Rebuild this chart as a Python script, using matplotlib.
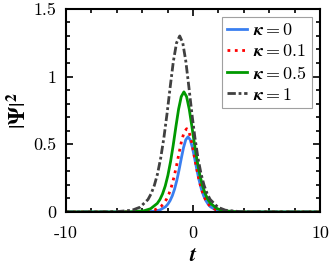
import matplotlib
matplotlib.use('Agg')
from matplotlib import pyplot as plt
from matplotlib.ticker import MultipleLocator

plt.rcParams['mathtext.fontset'] = 'cm'
plt.rcParams['font.family'] = 'serif'
plt.rcParams['font.serif'] = ['cmr10', 'DejaVu Serif']
plt.rcParams['axes.unicode_minus'] = False
plt.rcParams['axes.formatter.use_mathtext'] = True

# |Psi|^2, one (t, value) list per kappa
t_k0 = [-10, -4.8, -3.92, -3.04, -2.6, -2.16, -1.984, -1.808, -1.632, -1.456, -1.28, -1.104, -0.928,
        -0.752, -0.576, -0.4, -0.224, -0.048, 0.128, 0.304, 0.48, 0.656, 0.832, 1.008, 1.184,
        1.36, 1.8, 2.24, 3.12, 4.0, 10]
y_k0 = [0, 0.0001, 0.0007, 0.0055, 0.015, 0.039, 0.058, 0.084, 0.120, 0.169, 0.233, 0.310, 0.395,
        0.475, 0.533, 0.555, 0.533, 0.475, 0.395, 0.310, 0.233, 0.169, 0.120, 0.084, 0.058,
        0.039, 0.015, 0.0055, 0.0007, 0.0001, 0]

t_k01 = [-10, -5.5, -4.5, -3.5, -3.0, -2.5, -2.3, -2.1, -1.9, -1.7, -1.5, -1.3, -1.1, -0.9, -0.7,
         -0.5, -0.316, -0.132, 0.052, 0.236, 0.42, 0.604, 0.788, 0.972, 1.156, 1.34, 1.8, 2.26,
         3.18, 4.1, 10]
y_k01 = [0, 0.0001, 0.0008, 0.0061, 0.016, 0.043, 0.064, 0.093, 0.133, 0.188, 0.258, 0.343, 0.437,
         0.526, 0.591, 0.615, 0.591, 0.526, 0.437, 0.343, 0.258, 0.188, 0.133, 0.093, 0.064,
         0.043, 0.016, 0.0061, 0.0008, 0.0001, 0]

t_k05 = [-10, -5.97, -4.92, -3.87, -3.345, -2.82, -2.61, -2.4, -2.19, -1.98, -1.77, -1.56, -1.35,
         -1.14, -0.93, -0.72, -0.51, -0.30, -0.09, 0.12, 0.33, 0.54, 0.75, 0.96, 1.17, 1.38,
         1.905, 2.43, 3.48, 4.53, 10]
y_k05 = [0, 0.0002, 0.0012, 0.0088, 0.024, 0.063, 0.092, 0.134, 0.192, 0.271, 0.373, 0.495, 0.631,
         0.759, 0.852, 0.887, 0.852, 0.759, 0.631, 0.495, 0.373, 0.271, 0.192, 0.134, 0.092,
         0.063, 0.024, 0.0088, 0.0012, 0.0002, 0]

t_k1 = [-10, -7.3, -6.05, -4.8, -4.18, -3.55, -3.3, -3.05, -2.8, -2.55, -2.3, -2.05, -1.8, -1.55,
        -1.3, -1.05, -0.81, -0.57, -0.33, -0.09, 0.15, 0.39, 0.63, 0.87, 1.11, 1.35, 1.95, 2.55,
        3.75, 4.95, 10]
y_k1 = [0, 0.0, 0.002, 0.013, 0.035, 0.092, 0.135, 0.196, 0.281, 0.397, 0.546, 0.725, 0.924, 1.113,
        1.249, 1.30, 1.249, 1.113, 0.924, 0.725, 0.546, 0.397, 0.281, 0.196, 0.135, 0.092,
        0.035, 0.013, 0.002, 0.0, 0]

fig = plt.figure(figsize=(3.32, 2.69), dpi=100)
ax = fig.add_axes([0.199, 0.212, 0.765, 0.755])

ax.plot(t_k0, y_k0, color='#3a7ff0', lw=2, label=r'$\mathbfit{\kappa} = 0$')
ax.plot(t_k01, y_k01, color='#ff0000', lw=2, ls=':', label=r'$\mathbfit{\kappa} = 0.1$')
ax.plot(t_k05, y_k05, color='#009900', lw=2, label=r'$\mathbfit{\kappa} = 0.5$')
ax.plot(t_k1, y_k1, color='#404040', lw=2, ls=(0, (3, 1, 1, 1)), label=r'$\mathbfit{\kappa} = 1$')

ax.set_xlim(-10, 10)
ax.set_ylim(0, 1.5)
ax.set_xticks([-10, 0, 10])
ax.set_xticklabels(['-10', '0', '10'])
ax.set_yticks([0, 0.5, 1, 1.5])
ax.set_yticklabels(['0', '0.5', '1', '1.5'])
ax.xaxis.set_minor_locator(MultipleLocator(2))
ax.yaxis.set_minor_locator(MultipleLocator(0.1))
ax.tick_params(which='both', direction='in', top=True, right=True, labelsize=13, width=1.2)
ax.tick_params(which='major', length=5)
ax.tick_params(axis='x', which='major', pad=10)
ax.tick_params(axis='y', which='major', pad=7)
ax.tick_params(which='minor', length=3)
for s in ax.spines.values():
    s.set_linewidth(1.5)

ax.set_xlabel(r'$\mathbfit{t}$', fontsize=16, labelpad=3)
ax.set_ylabel(r'$|\mathbf{\Psi}|^\mathbf{2}$', fontsize=16, labelpad=2, math_fontfamily='stix')

leg = ax.legend(loc='upper right', fontsize=13, fancybox=False, edgecolor='#888888',
                handlelength=1.1, handletextpad=0.3, borderpad=0.3, labelspacing=0.28,
                borderaxespad=0.45)
leg.get_frame().set_linewidth(0.8)

fig.savefig('out.png', dpi=100)
